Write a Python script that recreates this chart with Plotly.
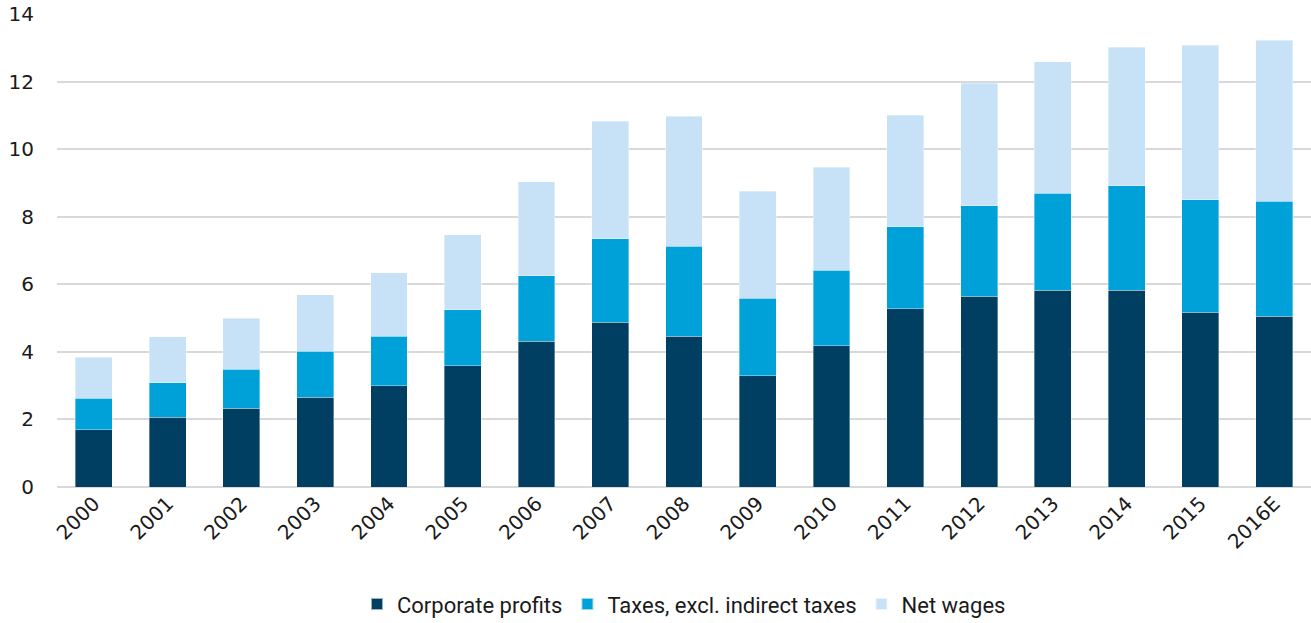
import plotly.graph_objects as go

years = ["2000", "2001", "2002", "2003", "2004", "2005", "2006", "2007", "2008",
         "2009", "2010", "2011", "2012", "2013", "2014", "2015", "2016E"]

corporate_profits = [1.70, 2.07, 2.33, 2.65, 2.99, 3.59, 4.31, 4.87, 4.46,
                     3.29, 4.18, 5.28, 5.64, 5.82, 5.82, 5.17, 5.05]
taxes_excl_indirect = [0.92, 1.01, 1.16, 1.37, 1.47, 1.65, 1.95, 2.48, 2.67,
                       2.29, 2.24, 2.42, 2.68, 2.88, 3.09, 3.33, 3.41]
net_wages = [1.22, 1.37, 1.50, 1.67, 1.88, 2.22, 2.78, 3.47, 3.85,
             3.17, 3.05, 3.30, 3.63, 3.88, 4.10, 4.57, 4.77]

y_ticks = [0, 2, 4, 6, 8, 10, 12, 14]

series = [
    ("Corporate profits", corporate_profits, "#003F62"),
    ("Taxes, excl. indirect taxes", taxes_excl_indirect, "#00A0D9"),
    ("Net wages", net_wages, "#C7E2F7"),
]

fig = go.Figure()
for name, values, color in series:
    fig.add_trace(go.Bar(
        x=years, y=values, name=name,
        marker=dict(color=color, line=dict(width=0.6, color="rgba(255,255,255,0.6)")),
    ))

fig.update_layout(
    barmode="stack",
    bargap=0.5,
    width=1311, height=623,
    margin=dict(l=57, r=0, t=14, b=136, autoexpand=False),
    plot_bgcolor="white",
    paper_bgcolor="white",
    font=dict(family="Roboto, DejaVu Sans, sans-serif", color="#1a1a1a", size=20),
    showlegend=True,
    legend=dict(
        orientation="h", x=0.5, xanchor="center", y=-0.248, yanchor="middle",
        font=dict(family="Roboto, sans-serif", size=22),
        itemwidth=30, traceorder="normal", itemsizing="constant",
    ),
    xaxis=dict(
        tickangle=-45, tickfont=dict(family="DejaVu Sans, sans-serif", size=20),
        showgrid=False, showline=False, ticks="", automargin=False,
    ),
    yaxis=dict(
        range=[0, 14], tickvals=y_ticks, showgrid=True, gridcolor="#D9D9D9",
        gridwidth=1.5, zeroline=True, zerolinecolor="#D9D9D9", zerolinewidth=1.5,
        tickfont=dict(family="DejaVu Sans, sans-serif", size=20), ticks="",
        ticklabelstandoff=22, automargin=False,
    ),
)

fig.write_html("out.html")
